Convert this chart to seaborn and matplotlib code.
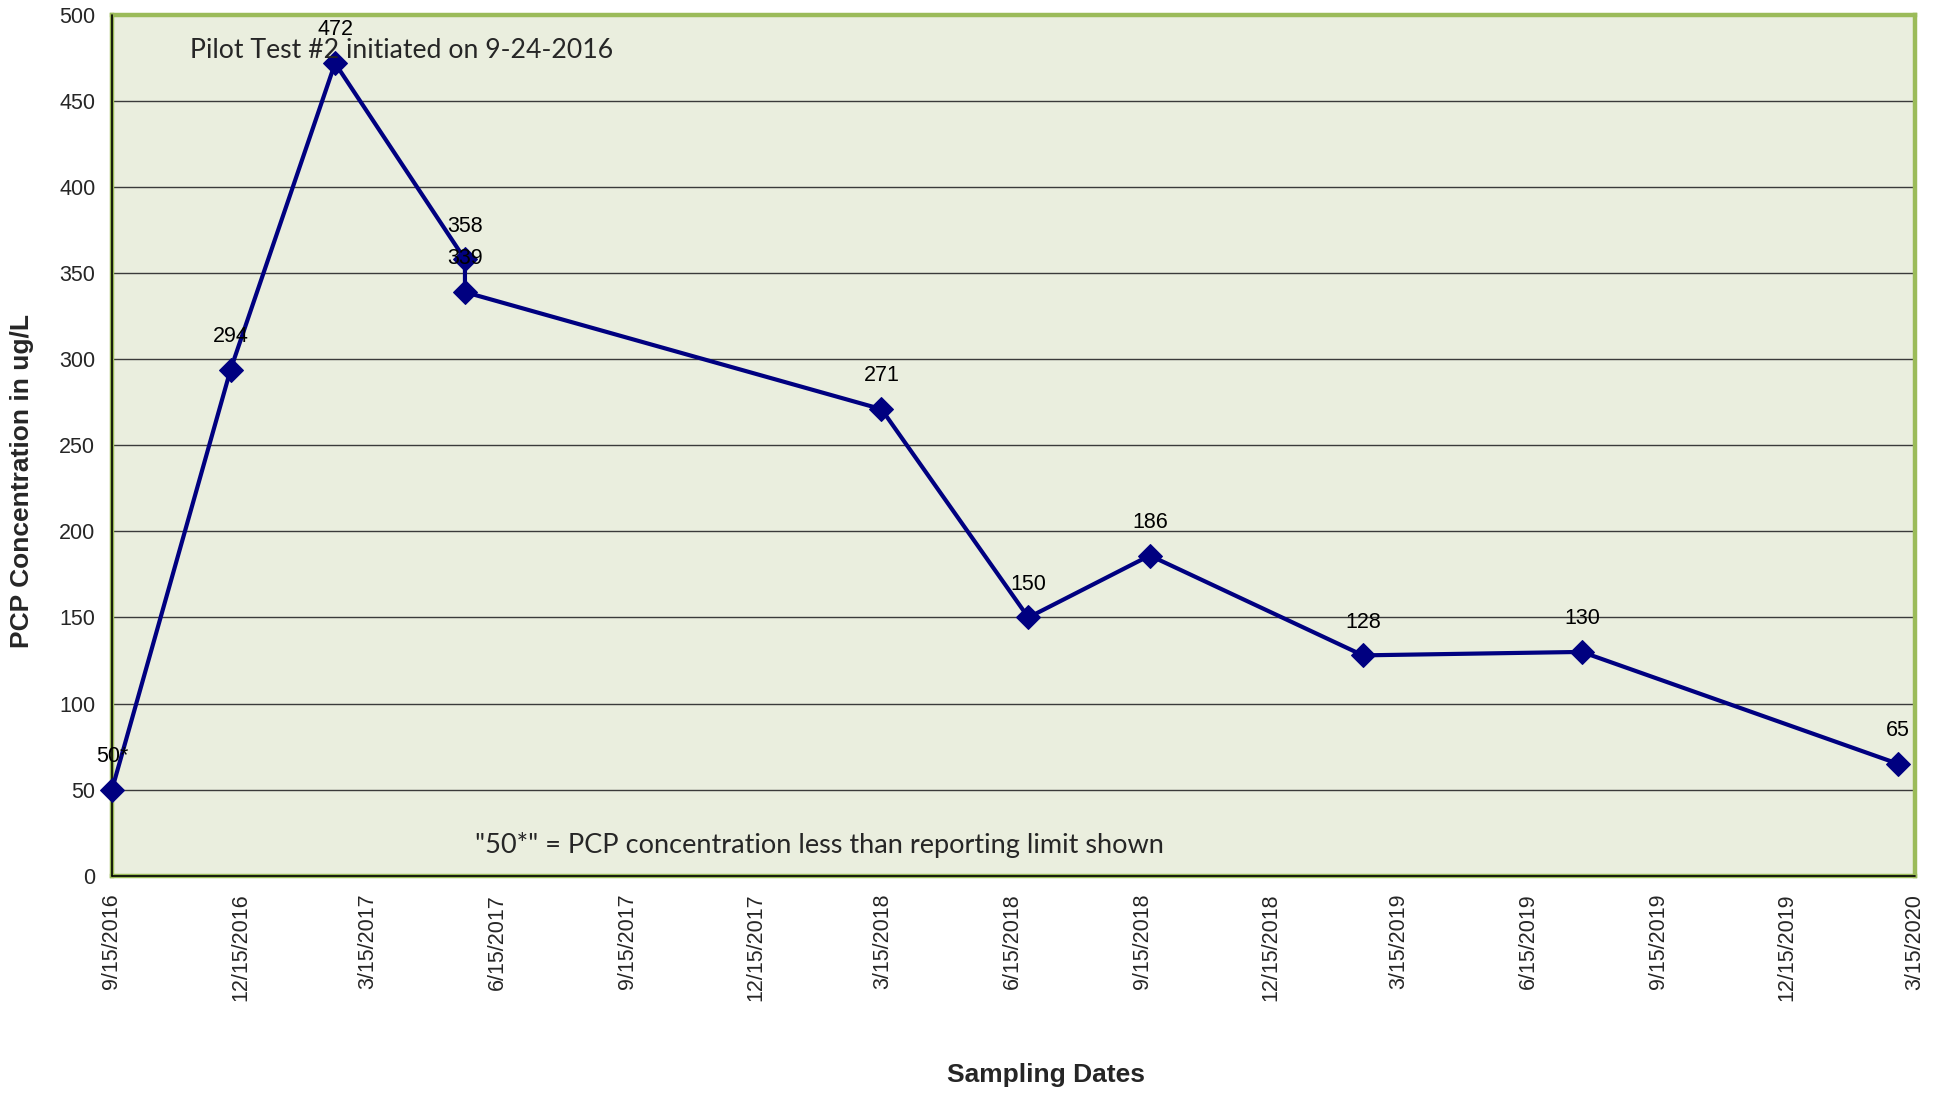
import matplotlib
matplotlib.use("Agg")
import matplotlib.pyplot as plt
import pandas as pd
import seaborn as sns

# PCP sampling results
sample_dates = ["2016-09-15", "2016-12-08", "2017-02-20", "2017-05-23", "2017-05-23",
                "2018-03-14", "2018-06-26", "2018-09-20", "2019-02-18", "2019-07-23",
                "2020-03-03"]
pcp_values = [50, 294, 472, 358, 339, 271, 150, 186, 128, 130, 65]
value_labels = ["50*", "294", "472", "358", "339", "271", "150", "186", "128", "130", "65"]

# quarterly date axis
tick_dates = ["2016-09-15", "2016-12-15", "2017-03-15", "2017-06-15", "2017-09-15",
              "2017-12-15", "2018-03-15", "2018-06-15", "2018-09-15", "2018-12-15",
              "2019-03-15", "2019-06-15", "2019-09-15", "2019-12-15", "2020-03-15"]
tick_labels = ["9/15/2016", "12/15/2016", "3/15/2017", "6/15/2017", "9/15/2017",
               "12/15/2017", "3/15/2018", "6/15/2018", "9/15/2018", "12/15/2018",
               "3/15/2019", "6/15/2019", "9/15/2019", "12/15/2019", "3/15/2020"]
y_ticks = [0, 50, 100, 150, 200, 250, 300, 350, 400, 450, 500]

df = pd.DataFrame({"date": pd.to_datetime(sample_dates), "pcp": pcp_values})
ticks = pd.to_datetime(tick_dates)

sns.set_style("white")
plt.rcParams["font.family"] = ["Liberation Sans", "DejaVu Sans"]

fig = plt.figure(figsize=(19.44, 10.93), dpi=100)
ax = fig.add_axes([0.0576, 0.1988, 0.9275, 0.7875])
ax.set_facecolor("#EAEEDE")

navy = "#000080"
sns.lineplot(data=df, x="date", y="pcp", ax=ax, estimator=None, sort=False,
             color=navy, linewidth=3.0, marker="D", markersize=12,
             markeredgecolor=navy, markerfacecolor=navy, clip_on=False, zorder=5)

ax.set_xlim(ticks[0], ticks[-1])
ax.set_ylim(0, 500)
ax.set_xticks(ticks)
ax.set_xticklabels(tick_labels, rotation=90, fontsize=15.5)
ax.set_yticks(y_ticks)
ax.set_yticklabels([str(v) for v in y_ticks], fontsize=15.5)
ax.tick_params(axis="both", direction="out", length=5, width=1, color="#808080",
               pad=8)
ax.tick_params(axis="y", pad=7)

# horizontal gridlines
ax.yaxis.grid(True, color="#3a3a3a", linewidth=1.0)
ax.xaxis.grid(False)
ax.set_axisbelow(True)

# green chart frame with dark axis lines on left and bottom
for side in ["top", "right", "left", "bottom"]:
    ax.spines[side].set_visible(True)
    ax.spines[side].set_color("#9BBB59")
    ax.spines[side].set_linewidth(3.2)
ax.plot([0, 0], [0, 1], transform=ax.transAxes, color="black", lw=1.2,
        clip_on=False, zorder=4)
ax.plot([0, 1], [0, 0], transform=ax.transAxes, color="black", lw=1.2,
        clip_on=False, zorder=4)

# value labels above each point
for d, v, lab in zip(df["date"], df["pcp"], value_labels):
    ax.annotate(lab, (d, v), xytext=(0, 24), textcoords="offset points",
                ha="center", va="center", fontsize=15.5, color="black", zorder=6)

ax.set_xlabel("")
ax.set_ylabel("")
fig.text(0.0113, 0.56, "PCP Concentration in ug/L", rotation=90, ha="center",
         va="center", fontsize=19, fontweight="bold")
fig.text(0.538, 0.0165, "Sampling Dates", ha="center", va="center",
         fontsize=19, fontweight="bold")

note_font = ["Lato", "DejaVu Sans"]
ax.text(0.0433, 0.9593, "Pilot Test #2 initiated on 9-24-2016", transform=ax.transAxes,
        ha="left", va="center", fontsize=19.2, family=note_font, zorder=7)
ax.text(0.2013, 0.0357, "\"50*\" = PCP concentration less than reporting limit shown",
        transform=ax.transAxes, ha="left", va="center", fontsize=19.5,
        family=note_font, zorder=7)

fig.savefig("out.png", dpi=100)
